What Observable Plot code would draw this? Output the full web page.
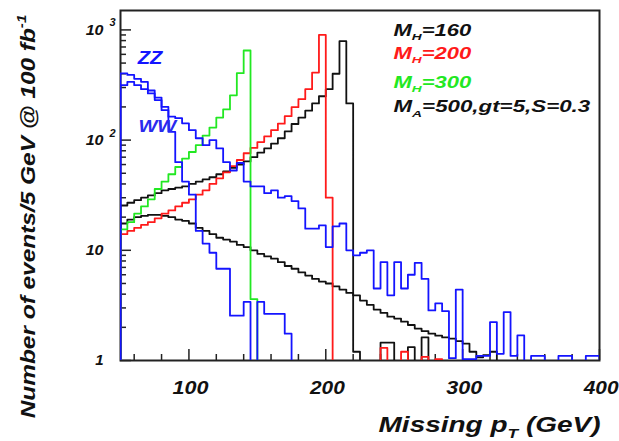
<!DOCTYPE html>
<html><head><meta charset="utf-8">
<script src="https://cdn.jsdelivr.net/npm/d3@7"></script>
<script src="https://cdn.jsdelivr.net/npm/@observablehq/plot@0.6"></script>
<style>
body{margin:0;background:#fff;}
svg{font-family:"Liberation Sans",Arial,sans-serif;font-weight:bold;font-style:italic;}
</style></head><body><div id="chart"></div>
<script>
// ---- data: histograms in 5 GeV bins starting at 50 GeV ----
const binLow = 50;
const binWidth = 5;
const zz = [404,390,360,338,282,243,200,163,158,142,
            123,104,90,100,84,63,53,62,42,38,
            38,33,35,30,31,28,24,15.7,15.7,16.8,
            10.7,16.5,17.5,10,9,9.5,10,4.5,7.8,3.9,
            7.8,4.5,6,7.7,5.5,2.85,3.3,2.8,1.05,4.4,
            1.03,1.03,1.1,1.1,2.23,1.15,2.75,1.1,1.69,0,
            1.1,1.1,0,0,1.1,1.1,0,0,1.1,1.1];
const ww = [315,338,315,290,265,231,187,119,63,42,
            32,15,11.5,9.5,6.8,6.8,2.55,2.55,3.4,0,
            3.4,2.65,2.65,2.65,1.75];
const mh160 = [25.5,27,28.5,30,31.5,33,35,36,37,38,
               40,42,44,46,49,52,56,60,64,70,
               77,84,93,104,120,140,160,185,215,250,
               290,400,790,215,1.2,0,0,0,1.45,1.45,
               0,0,1.32,0,1.62];
const mh200 = [14,15,16,17,18,19.5,21.5,23,25,27,
               29,32,35,40,45,51,58,66,76,85,
               96,108,123,141,165,199,235,290,410,900,
               30,0,0,0,0,0,0,0,1.3,0,
               0,1.2,0,0,1.08,0,1.03];
const mh300 = [15.5,18,21.5,25,29,36,42,49,57,68,
               78,90,110,130,160,190,255,405,650,3.6];
const ma500 = [17.5,19,20,20.5,21,21,20.5,20,19,18.5,
               17.5,16,15,14,13,12.5,12,11.2,10.7,10,
               9.3,8.8,8.4,7.8,7.2,6.8,6.3,5.9,5.5,5.2,
               5,4.7,4.4,4.1,3.9,3.5,3.2,2.9,2.7,2.5,
               2.4,2.25,2.1,1.95,1.85,1.75,1.68,1.62,1.58,1.5,
               1.42,1.2,1.07,1.12,1.2];

const xTickValues = [100, 200, 300, 400];
const xTickLabels = ["100", "200", "300", "400"];
const xMinorTicks = [60, 80, 120, 140, 160, 180, 220, 240, 260, 280, 320, 340, 360, 380];
const yTickValues = [1, 10, 100, 1000];
const yTickBase = ["1", "10", "10", "10"];
const yTickExp = ["", "", "2", "3"];
const yMinorTicks = [2,3,4,5,6,7,8,9,20,30,40,50,60,70,80,90,200,300,400,500,600,700,800,900];
const legendLabels = ["M_{H}=160", "M_{H}=200", "M_{H}=300", "M_{A}=500,gt=5,S=0.3"];
const bgLabels = ["ZZ", "WW"];
const xTitle = "Missing p_{T} (GeV)";
const yTitle = "Number of events/5 GeV @ 100 fb^{-1}";

// ---- drawing ----
const W = 619, H = 441, mL = 120, mR = 20, mT = 10, mB = 81;
const frameW = W - mL - mR, frameH = H - mT - mB;
const BLUE = "#1414ff", RED = "#ff1a1a", GREEN = "#22e822", BLACK = "#111";
const FLOOR = 0.3;

function steps(values) {
  const pts = [{x: binLow, v: 0}];
  values.forEach((v, i) => {
    pts.push({x: binLow + i * binWidth, v}, {x: binLow + (i + 1) * binWidth, v});
  });
  pts.push({x: binLow + values.length * binWidth, v: 0});
  return pts;
}
const hist = (values, stroke) => Plot.line(steps(values), {
  x: "x", y: d => d.v > 0 ? d.v : FLOOR, stroke, strokeWidth: 1.8, clip: true
});

const chart = Plot.plot({
  width: W, height: H,
  marginLeft: mL, marginRight: mR, marginTop: mT, marginBottom: mB,
  x: {domain: [50, 400], axis: null},
  y: {type: "log", domain: [1, 1500], axis: null},
  style: {background: "white", fontFamily: "Liberation Sans, Arial, sans-serif", fontWeight: "bold", fontStyle: "italic"},
  marks: [
    Plot.frame({stroke: "#222", strokeWidth: 2}),
    Plot.tickX(xTickValues, {x: d => d, insetTop: frameH - 11, stroke: "#222", strokeWidth: 1.5}),
    Plot.tickX(xMinorTicks, {x: d => d, insetTop: frameH - 6, stroke: "#222", strokeWidth: 1.5}),
    Plot.tickY(yTickValues, {y: d => d, insetRight: frameW - 11, stroke: "#222", strokeWidth: 1.5}),
    Plot.tickY(yMinorTicks, {y: d => d, insetRight: frameW - 6, stroke: "#222", strokeWidth: 1.5}),
    hist(ma500, BLACK),
    hist(mh160, BLACK),
    hist(mh200, RED),
    hist(mh300, GREEN),
    hist(ww, BLUE),
    hist(zz, BLUE),
    // axis labels
    Plot.text(xTickLabels, {x: (d, i) => xTickValues[i], frameAnchor: "bottom", lineAnchor: "bottom",
      dy: 33, dx: 1.5, fontSize: 18, fill: BLACK}),
    Plot.text(yTickBase, {y: (d, i) => yTickValues[i], frameAnchor: "left", textAnchor: "end",
      dx: -17, fontSize: 15, fill: BLACK}),
    Plot.text(yTickExp, {y: (d, i) => yTickValues[i], frameAnchor: "left", textAnchor: "start",
      dx: -11, dy: -7, fontSize: 11, fill: BLACK}),
    Plot.text([xTitle], {frameAnchor: "bottom-right", textAnchor: "end", lineAnchor: "bottom",
      dx: 1, dy: 71.5, fontSize: 22, fill: BLACK}),
    Plot.text([yTitle], {frameAnchor: "left", rotate: -90, textAnchor: "middle", lineAnchor: "bottom",
      dx: -86, dy: 31, fontSize: 21, fill: BLACK}),
    // legend
    Plot.text([legendLabels[0]], {frameAnchor: "top-left", textAnchor: "start", lineAnchor: "bottom", dx: 273, dy: 25, fontSize: 16, fill: BLACK}),
    Plot.text([legendLabels[1]], {frameAnchor: "top-left", textAnchor: "start", lineAnchor: "bottom", dx: 273, dy: 48.3, fontSize: 16, fill: RED}),
    Plot.text([legendLabels[2]], {frameAnchor: "top-left", textAnchor: "start", lineAnchor: "bottom", dx: 273, dy: 77.3, fontSize: 16, fill: GREEN}),
    Plot.text([legendLabels[3]], {frameAnchor: "top-left", textAnchor: "start", lineAnchor: "bottom", dx: 273, dy: 101.7, fontSize: 16, fill: BLACK}),
    Plot.text([bgLabels[0]], {frameAnchor: "top-left", textAnchor: "start", lineAnchor: "bottom", dx: 17, dy: 53, fontSize: 18, fill: BLUE}),
    Plot.text([bgLabels[1]], {frameAnchor: "top-left", textAnchor: "start", lineAnchor: "bottom", dx: 18, dy: 121.7, fontSize: 17, fill: "#2a2aee"})
  ]
});
document.getElementById("chart").append(chart);

// ---- text post-processing: sub/superscripts and width fitting ----
const NS = "http://www.w3.org/2000/svg";
const targets = new Map([
  ["M_{H}=160", [78, "start"]], ["M_{H}=200", [78, "start"]], ["M_{H}=300", [78, "start"]],
  ["M_{A}=500,gt=5,S=0.3", [197, "start"]],
  ["ZZ", [27, "start"]], ["WW", [40, "start"]],
  [xTitle, [222, "end"]], [yTitle, [404, "middle"]],
  ["100", [36, "middle"]], ["200", [36, "middle"]], ["300", [36, "middle"]], ["400", [36, "middle"]],
  ["10", [18.5, "end"]]
]);
function richify(el) {
  const s = el.textContent;
  if (!/[_^]\{/.test(s)) return;
  const fs = parseFloat(getComputedStyle(el).fontSize) || 16;
  const parts = s.split(/([_^]\{[^}]*\})/);
  el.textContent = "";
  let shift = 0;
  for (const p of parts) {
    if (!p) continue;
    const t = document.createElementNS(NS, "tspan");
    const m = p.match(/^([_^])\{([^}]*)\}$/);
    if (m) {
      const d = m[1] === "_" ? 0.28 * fs : -0.42 * fs;
      t.setAttribute("dy", d - shift); shift = d;
      t.setAttribute("font-size", 0.62 * fs);
      t.textContent = m[2];
    } else {
      if (shift) { t.setAttribute("dy", -shift); shift = 0; }
      t.textContent = p;
    }
    el.appendChild(t);
  }
}
function fitWidth(el, target, anchor) {
  const bb = el.getBBox();
  if (!bb.width) return;
  const s = target / bb.width;
  const ax = anchor === "start" ? bb.x : anchor === "end" ? bb.x + bb.width : bb.x + bb.width / 2;
  const prev = el.getAttribute("transform") || "";
  el.setAttribute("transform", `${prev} translate(${ax},0) scale(${s},1) translate(${-ax},0)`);
}
chart.querySelectorAll("text").forEach(el => {
  const key = el.textContent;
  richify(el);
  if (targets.has(key)) { const [w, a] = targets.get(key); fitWidth(el, w, a); }
});
</script></body></html>
